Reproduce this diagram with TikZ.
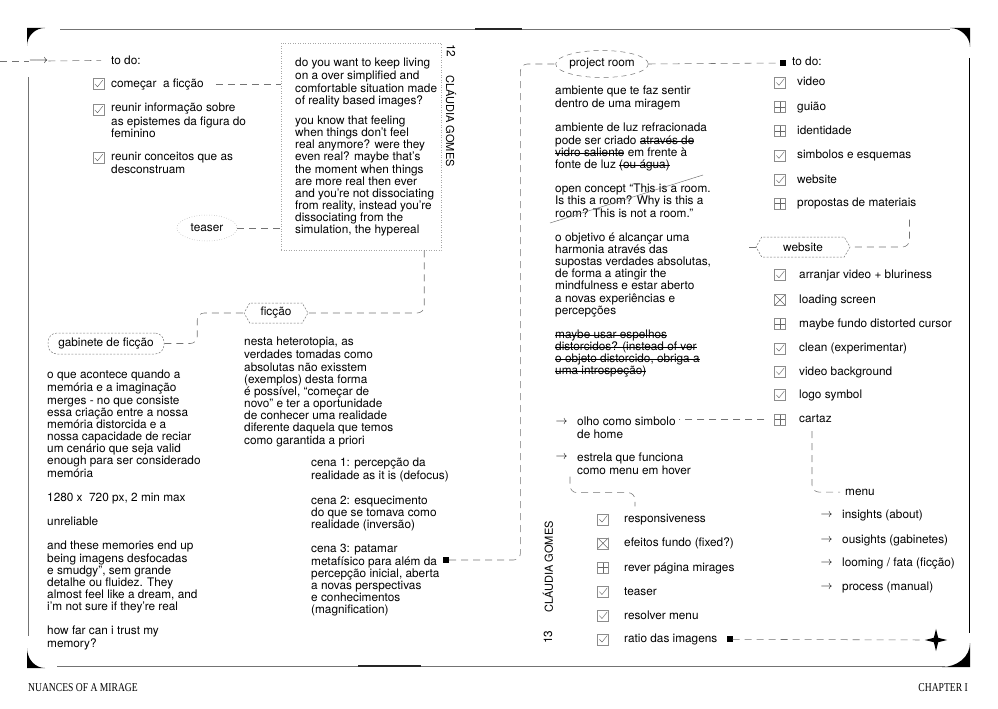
\documentclass[tikz,border=0pt]{standalone}
\usepackage{fontspec}
\setmainfont{TeX Gyre Heros}
\newfontfamily\capsfont[FakeStretch=0.8]{Liberation Serif}
\usetikzlibrary{shapes.geometric,shapes.symbols}
\newcommand\bodyfont{\fontsize{11.8}{12.15}\selectfont}
\newcommand\strk[1]{\leavevmode\setbox0=\hbox{#1}\rlap{\vrule height 3.6pt depth -3.05pt width \wd0}\box0\relax}
\tikzset{
    link/.style={draw=black!55, line width=0.55pt, dash pattern=on 7pt off 5pt},
    cbox/.style={draw=black!45, line width=0.5pt, minimum size=11pt, inner sep=0pt},
    tickbox/.style={cbox, path picture={\draw[black!60, line width=0.45pt] ([shift={(-3.6,0)}]path picture bounding box.center) -- ([shift={(-1,2.8)}]path picture bounding box.center) -- ([shift={(4.3,-3.9)}]path picture bounding box.center);}},
    plusbox/.style={cbox, path picture={\draw[black!60, line width=0.45pt] (path picture bounding box.north) -- (path picture bounding box.south) (path picture bounding box.west) -- (path picture bounding box.east);}},
    crossbox/.style={cbox, path picture={\draw[black!60, line width=0.45pt] (path picture bounding box.north west) -- (path picture bounding box.south east) (path picture bounding box.south west) -- (path picture bounding box.north east);}},
    sqmark/.style={fill=black, minimum size=6pt, inner sep=0pt},
}

\begin{document}
\begin{tikzpicture}[x=1pt, y=-1pt, every node/.style={inner sep=0pt, font=\bodyfont}]
    \useasboundingbox (0,0) rectangle (998,709);

    % page frame
    \begin{scope}[color=black!55, line width=0.8pt]
        \draw (60,29) -- (950,29);
        \draw (57,666) -- (945,666);
        \draw (28,77) -- (28,636);
        \draw [black] (969,58) -- (969,633);
        \draw [black!85, line width=1.4pt] (475,29) -- (522,29);
        \draw [black!85, line width=1.4pt] (358,666) -- (421,666);
    \end{scope}
    \fill (27,28) -- (45,28) .. controls (35,28) and (27,36) .. (27,46) -- cycle;
    \fill (970,28) -- (970,47) .. controls (970,37) and (961,28) .. (950,28) -- cycle;
    \fill (27,668) -- (27,648) .. controls (27,659) and (35,668) .. (45,668) -- cycle;
    \fill (970,667) -- (942,667) .. controls (957,667) and (970,657) .. (970,643) -- cycle;

    \node (foot1) [anchor=base west, font=\capsfont\fontsize{12}{12}\selectfont] at (28,691) {NUANCES OF A MIRAGE} ;
    \node (foot2) [anchor=base east, font=\capsfont\fontsize{12}{12}\selectfont] at (968,691) {CHAPTER I} ;

    \node (pg12) [rotate=-90] at (451,51) {12} ;
    \node (nameL) [rotate=-90, font=\fontsize{11}{11}\selectfont] at (451,121) {CLÁUDIA GOMES} ;
    \node (nameR) [rotate=90, font=\fontsize{11}{11}\selectfont] at (548,567) {CLÁUDIA GOMES} ;
    \node (pg13) [rotate=90] at (548,637) {13} ;

    % shapes
    \node (box) [draw=black!35, dotted, line width=0.5pt, minimum width=160pt, minimum height=207pt] at (361,146.5) {} ;
    \node (teaser) [ellipse, draw=black!40, dotted, line width=0.5pt, minimum width=60pt, minimum height=26pt] at (207,228) {teaser} ;
    \node (ficc) [signal, signal to=east and west, signal pointer angle=120, draw=black!55, dash pattern=on 2pt off 1.5pt, line width=0.5pt, minimum width=64pt, minimum height=20pt] at (276,313) {ficção} ;
    \node (gab) [rectangle, rounded corners=9pt, draw=black!50, dash pattern=on 2pt off 1.5pt, line width=0.5pt, minimum width=116pt, minimum height=21pt] at (106,343.5) {gabinete de ficção} ;
    \node (proj) [ellipse, draw=black!55, dash pattern=on 5pt off 4pt, line width=0.5pt, minimum width=90pt, minimum height=27pt] at (602,64) {project room} ;
    \node (web) [signal, signal to=east and west, signal pointer angle=120, draw=black!55, dash pattern=on 2pt off 1.5pt, line width=0.5pt, minimum width=94pt, minimum height=20pt] at (803,247) {website} ;
    \node (sqL) [sqmark] at (446,560) {} ;
    \node (sqT) [sqmark] at (783,63) {} ;
    \node (sqR) [sqmark] at (729.5,639.3) {} ;
    \node (star) [star, star points=4, star point ratio=0.28, shape border rotate=45, fill=black, minimum size=6.2pt] at (936,640) {} ;
    \coordinate (inEdge) at (0,61) ;
    \coordinate (webStub) at (745,247) ;

    % arrows
    \node (inArr) at (38.5,61) {$\longrightarrow$} ;
    \node (olhoA) at (561.5,422) {$\rightarrow$} ;
    \node (estA) at (561.5,457.3) {$\rightarrow$} ;
    \node (M1) at (826.5,515) {$\rightarrow$} ;
    \node (M2) at (826.5,540) {$\rightarrow$} ;
    \node (M3) at (826.5,563.3) {$\rightarrow$} ;
    \node (M4) at (826.5,587.3) {$\rightarrow$} ;

    % check boxes
    \node (A1) [tickbox] at (98.5,84) {} ;
    \node (A2) [tickbox] at (98.5,110) {} ;
    \node (A3) [tickbox] at (98.5,158) {} ;
    \node (R1) [tickbox] at (780,82.5) {} ;
    \node (R2) [plusbox] at (780,107) {} ;
    \node (R3) [plusbox] at (780,131) {} ;
    \node (R4) [tickbox] at (780,155.5) {} ;
    \node (R5) [tickbox] at (780,180) {} ;
    \node (R6) [plusbox] at (780,203.5) {} ;
    \node (W1) [tickbox] at (780,275) {} ;
    \node (W2) [crossbox] at (780,300) {} ;
    \node (W3) [plusbox] at (780,324) {} ;
    \node (W4) [tickbox] at (780,348.3) {} ;
    \node (W5) [tickbox] at (780,371.7) {} ;
    \node (W6) [tickbox] at (780,395) {} ;
    \node (W7) [plusbox] at (780,419.3) {} ;
    \node (B1) [tickbox] at (603,519.3) {} ;
    \node (B2) [crossbox] at (603,543.3) {} ;
    \node (B3) [plusbox] at (603,567.7) {} ;
    \node (B4) [tickbox] at (603,591.7) {} ;
    \node (B5) [tickbox] at (603,615.7) {} ;
    \node (B6) [tickbox] at (603,639.3) {} ;

    % one line texts
    \begin{scope}[every node/.style={anchor=base west, inner sep=0pt, font=\bodyfont}]
        \node (todoL) at (111,64.5) {to do:} ;
        \node (A1t) at (111,87.5) {começar~ a ficção} ;
        \node (todoR) at (792,66) {to do:} ;
        \node (R1t) at (797,85.8) {video} ;
        \node (R2t) at (797,110.8) {guião} ;
        \node (R3t) at (797,134.5) {identidade} ;
        \node (R4t) at (797,158.5) {simbolos e esquemas} ;
        \node (R5t) at (797,183.5) {website} ;
        \node (R6t) at (797,206.8) {propostas de materiais} ;
        \node (W1t) at (799,278.5) {arranjar video + bluriness} ;
        \node (W2t) at (799,303.5) {loading screen} ;
        \node (W3t) at (799,327.5) {maybe fundo distorted cursor} ;
        \node (W4t) at (799,351.8) {clean (experimentar)} ;
        \node (W5t) at (799,375.2) {video background} ;
        \node (W6t) at (799,398.5) {logo symbol} ;
        \node (W7t) at (799,422.8) {cartaz} ;
        \node (menu) at (845,495.2) {menu} ;
        \node (M1t) at (842,518.5) {insights (about)} ;
        \node (M2t) at (842,543.5) {ousights (gabinetes)} ;
        \node (M3t) at (842,566.8) {looming / fata (ficção)} ;
        \node (M4t) at (842,590.8) {process (manual)} ;
        \node (B1t) at (624,522.8) {responsiveness} ;
        \node (B2t) at (624,546.8) {efeitos fundo (fixed?)} ;
        \node (B3t) at (624,571.2) {rever página mirages} ;
        \node (B4t) at (624,595.2) {teaser} ;
        \node (B5t) at (624,619.2) {resolver menu} ;
        \node (B6t) at (624,642.8) {ratio das imagens} ;
    \end{scope}

    % paragraphs
    \begin{scope}[every node/.style={anchor=north west, align=left, inner sep=0pt, font=\bodyfont}]
        \node (A2t) at (111,102.9) {\strut reunir informação sobre\\as epistemes da figura do\\feminino} ;
        \node (A3t) at (111,151.9) {\strut reunir conceitos que as\\desconstruam} ;
        \node (boxT) at (295,57.9) {\strut do you want to keep living\\on a over simplified and\\comfortable situation made\\of reality based images?\\[8pt]
            you know that feeling\\when things don’t feel\\real anymore? were they\\even real? maybe that’s\\the moment when things\\are more real then ever\\and you’re not dissociating\\from reality, instead you’re\\dissociating from the\\simulation, the hypereal} ;
        \node (leftT) at (47,369.9) {\strut o que acontece quando a\\memória e a imaginação\\merges - no que consiste\\essa criação entre a nossa\\memória distorcida e a\\nossa capacidade de reciar\\um cenário que seja valid\\enough para ser considerado\\memória\\[12.15pt]
            1280 x~ 720 px, 2 min max\\[12.15pt]
            unreliable\\[12.15pt]
            and these memories end up\\being imagens desfocadas\\e smudgy”, sem grande\\detalhe ou fluidez. They\\almost feel like a dream, and\\i’m not sure if they’re real\\[12.15pt]
            how far can i trust my\\memory?} ;
        \node (midT) at (244,336.9) {\strut nesta heterotopia, as\\verdades tomadas como\\absolutas não exisstem\\(exemplos) desta forma\\é possível, “começar de\\novo” e ter a oportunidade\\de conhecer uma realidade\\diferente daquela que temos\\como garantida a priori} ;
        \node (cenaT) at (311,457.9) {\strut cena 1: percepção da\\realidade as it is (defocus)\\[12.15pt]
            cena 2: esquecimento\\do que se tomava como\\realidade (inversão)\\[12.15pt]
            cena 3: patamar\\metafísico para além da\\percepção inicial, aberta\\a novas perspectivas\\e conhecimentos\\(magnification)} ;
        \node (roomT) at (555,85.6) {\strut ambiente que te faz sentir\\dentro de uma miragem\\[12.15pt]
            ambiente de luz refracionada\\pode ser criado \strk{através de}\\\strk{vidro saliente} em frente à\\fonte de luz \strk{(ou água)}\\[12.15pt]
            open concept “This is a room.\\Is this a room? Why is this a\\room? This is not a room.”\\[12.15pt]
            o objetivo é alcançar uma\\harmonia através das\\supostas verdades absolutas,\\de forma a atingir the\\mindfulness e estar aberto\\a novas experiências e\\percepções\\[12.15pt]
            \strk{maybe usar espelhos}\\\strk{distorcidos? (instead of ver}\\\strk{o objeto distorcido, obriga a}\\\strk{uma introspeção)}} ;
        \node (olhoT) at (577,416.6) {\strut olho como simbolo\\de home} ;
        \node (estT) at (577,452.2) {\strut estrela que funciona\\como menu em hover} ;
    \end{scope}

    \draw [black!55, line width=0.5pt] (550,223) -- (703,175) ;

    % connectors
    \begin{scope}[every edge/.style={link}]
        \path (inEdge) edge (inArr.west) ;
        \path (inArr.east) edge[shorten >=10pt] (todoL.west) ;
        \path (A1t.east) edge[shorten <=12pt] (A1t.east -| box.west) ;
        \path (teaser.east) edge (teaser.east -| box.west) ;
        \path (proj.east) edge (sqT.west) ;
        \path (web.west) edge (webStub) ;
        \path (W7.west) edge[shorten <=10pt, shorten >=3pt] (W7.west -| olhoT.east) ;
        \path (sqR.east) edge (star.west) ;
    \end{scope}
    \begin{scope}[rounded corners=7pt]
        \draw [link] ([xshift=-17pt]box.south east) |- (ficc.east) ;
        \draw [link] (gab.east) -- ++(33,0) |- (ficc.west) ;
        \draw [link] (sqL.east) -| ([xshift=-35pt]proj.west) -- (proj.west) ;
        \draw [link] ([xshift=-7pt,yshift=-10pt]R6t.south east) |- (web.east) ;
        \draw [link, shorten >=5pt] ([xshift=13pt,yshift=-8pt]W7t.south west) |- (menu.west) ;
        \draw [link] ([xshift=-7pt,yshift=-2pt]estT.south west) -- ++(0,16) -| ([xshift=11pt,yshift=8pt]B1t.north west) ;
    \end{scope}
\end{tikzpicture}
\end{document}
